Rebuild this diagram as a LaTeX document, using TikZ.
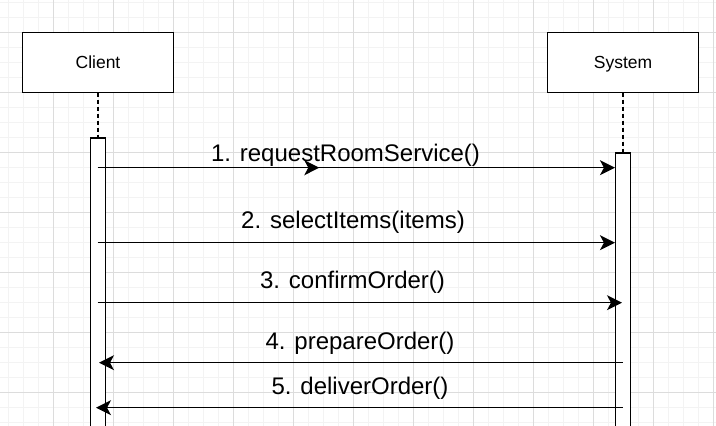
\documentclass[tikz,border=0pt]{standalone}
\usepackage{fontspec}
\setmainfont{Liberation Sans}
\usetikzlibrary{arrows.meta,decorations.markings}
\definecolor{gridminor}{HTML}{F3F3F3}
\definecolor{gridmajor}{HTML}{DCDCDC}
\tikzset{
  minorline/.style={gridminor, line width=0.8pt},
  majorline/.style={gridmajor, line width=0.8pt},
  actorbox/.style={draw, line width=1.3pt, fill=white, minimum width=150.6pt, minimum height=60pt, inner sep=0pt, text height=12.5pt, text depth=0pt, font=\fontsize{17.5}{20}\selectfont},
  actbar/.style={draw, line width=1.3pt, fill=white, minimum width=14.8pt, minimum height=320pt, inner sep=0pt, anchor=north},
  lifeline/.style={line width=1.2pt, dash pattern=on 4pt off 3pt},
  msg/.style={line width=1.2pt, -{Stealth[length=15pt, width=15pt, inset=4pt]}},
  msglabel/.style={anchor=base, inner sep=0pt, font=\fontsize{24}{28}\selectfont},
}
\begin{document}
\begin{tikzpicture}[x=1pt, y=-1pt]
\useasboundingbox (0,0) rectangle (716,426);
\fill[white] (0,0) rectangle (716,426);
% grid
\foreach \i in {0,...,47} {\draw[minorline] ({8.33+15*\i},0) -- ++(0,426);}
\foreach \i in {0,...,28} {\draw[minorline] (0,{2.33+15*\i}) -- ++(716,0);}
\foreach \i in {0,...,11} {\draw[majorline] ({53.33+60*\i},0) -- ++(0,426);}
\foreach \i in {0,...,6} {\draw[majorline] (0,{32.33+60*\i}) -- ++(716,0);}
% actors
\node[actorbox] (client) at (98,62.3) {Client};
\node[actorbox] (system) at (623,62.3) {System};
% activation bars
\node[actbar] (cact) at (98,137.3) {};
\node[actbar] (sact) at (623,152.3) {};
% lifelines
\draw[lifeline] (client.south) -- (cact.north);
\draw[lifeline] (system.south) -- (sact.north);
% message end points
\coordinate (m1s) at (97.7,167.7);
\coordinate (m2s) at (97.7,242.7);
\coordinate (m3s) at (97.7,302.7);
\coordinate (m3e) at (622,302.7);
\coordinate (m4s) at (622.7,362.7);
\coordinate (m4e) at (99,362.7);
\coordinate (m5s) at (622.7,407.7);
\coordinate (m5e) at (96,407.7);
% messages
\draw[msg, postaction={decorate}, decoration={markings, mark=at position 221.6pt with {\arrow{Stealth[length=15pt, width=15pt, inset=4pt]}}}] (m1s) -- (sact.west |- m1s);
\draw[msg] (m2s) -- (sact.west |- m2s);
\draw[msg] (m3s) -- (m3e);
\draw[msg] (m4s) -- (m4e);
\draw[msg] (m5s) -- (m5e);
% labels
\node[msglabel] (l1) at (345.5,161.7) {1. requestRoomService()};
\node[msglabel] (l2) at (353,228.3) {2. selectItems(items)};
\node[msglabel] (l3) at (352.5,288.3) {3. confirmOrder()};
\node[msglabel] (l4) at (360,349.3) {4. prepareOrder()};
\node[msglabel] (l5) at (360,394.3) {5. deliverOrder()};
\end{tikzpicture}
\end{document}
